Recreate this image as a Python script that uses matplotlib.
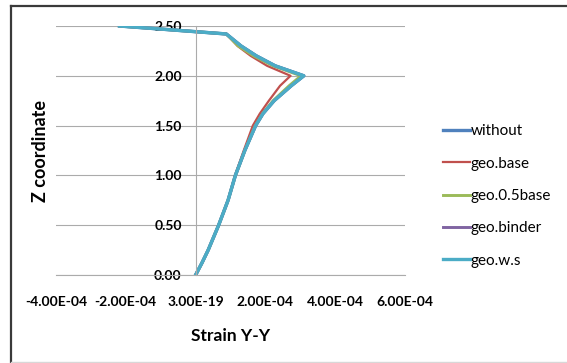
import numpy as np
import matplotlib
matplotlib.use("Agg")
import matplotlib.pyplot as plt
from matplotlib.lines import Line2D

# z levels (m) and strain Y-Y values, strain in units of 1e-4
z_coord = [0.0, 0.12, 0.25, 0.5, 0.75, 1.0, 1.25, 1.5, 1.62, 1.75, 1.9, 2.0, 2.1, 2.2, 2.3, 2.42, 2.5]
without = [0.0, 0.18, 0.36, 0.66, 0.93, 1.14, 1.41, 1.72, 1.93, 2.25, 2.74, 3.10, 2.28, 1.74, 1.30, 0.88, -2.18]
geo_base = [0.0, 0.18, 0.36, 0.66, 0.93, 1.13, 1.38, 1.64, 1.84, 2.10, 2.42, 2.72, 2.05, 1.58, 1.20, 0.88, -2.18]
geo_05base = [0.0, 0.18, 0.36, 0.66, 0.93, 1.14, 1.41, 1.71, 1.92, 2.22, 2.68, 3.02, 2.22, 1.66, 1.22, 0.88, -2.18]
geo_binder = [0.0, 0.18, 0.36, 0.66, 0.93, 1.14, 1.41, 1.72, 1.93, 2.25, 2.74, 3.10, 2.28, 1.74, 1.30, 0.88, -2.18]
geo_ws = [0.0, 0.18, 0.36, 0.66, 0.93, 1.14, 1.41, 1.72, 1.93, 2.25, 2.74, 3.10, 2.28, 1.74, 1.30, 0.88, -2.18]

series_names = ["without", "geo.base", "geo.0.5base", "geo.binder", "geo.w.s"]
x_ticks = [-4e-4, -2e-4, 0.0, 2e-4, 4e-4, 6e-4]
x_ticklabels = ["-4.00E-04", "-2.00E-04", "3.00E-19", "2.00E-04", "4.00E-04", "6.00E-04"]
y_ticks = [0.0, 0.5, 1.0, 1.5, 2.0, 2.5]
y_ticklabels = ["0.00", "0.50", "1.00", "1.50", "2.00", "2.50"]

colors = ["#4F81BD", "#C0504D", "#9BBB59", "#8064A2", "#4BACC6"]
widths = [2.4, 1.6, 2.1, 2.1, 2.4]

plt.rcParams["font.family"] = ["Lato", "DejaVu Sans"]

W, H = 567, 363
fig = plt.figure(figsize=(W / 100, H / 100), dpi=100)
ax = fig.add_axes([56 / W, (H - 275) / H, 349 / W, 249 / H])

unit = 1e-4
all_series = [without, geo_base, geo_05base, geo_binder, geo_ws]
for name, vals, c, lw in zip(series_names, all_series, colors, widths):
    ax.plot(np.array(vals) * unit, z_coord, color=c, lw=lw, label=name,
            solid_joinstyle="round")

ax.set_xlim(-4e-4, 6e-4)
ax.set_ylim(0, 2.5)
ax.set_xticks(x_ticks, x_ticklabels)
ax.set_yticks(y_ticks, y_ticklabels)

grid_c = "#ABABAB"
ax.grid(axis="y", color=grid_c, lw=0.8)
ax.set_axisbelow(True)
for s in ["top", "right"]:
    ax.spines[s].set_visible(False)
ax.spines["bottom"].set_color(grid_c)
ax.spines["bottom"].set_linewidth(0.8)
ax.spines["left"].set_position(("data", 0))
ax.spines["left"].set_color(grid_c)
ax.spines["left"].set_linewidth(0.8)

ax.tick_params(axis="both", length=0, labelsize=10)
ax.tick_params(axis="x", pad=15)
ax.tick_params(axis="y", pad=10)
for lab in ax.get_xticklabels() + ax.get_yticklabels():
    lab.set_fontweight("bold")

ax.set_xlabel("Strain Y-Y", fontsize=12.5, fontweight="bold", va="center")
ax.xaxis.set_label_coords(0.5, (275 - 336) / 249)
ax.set_ylabel("Z coordinate", fontsize=13, fontweight="bold", va="center")
ax.yaxis.set_label_coords((40.5 - 56) / 349, 0.5)

fig.legend(loc="center left", bbox_to_anchor=(443 / W, 1 - 196 / H),
           frameon=False, fontsize=11, handlelength=1.75, handletextpad=0.05,
           labelspacing=1.2, borderpad=0, borderaxespad=0)

# chart frame
fig.add_artist(Line2D([11 / W, 11 / W], [0, 1 - 5.5 / H], color="#3A3A3A", lw=1.6))
fig.add_artist(Line2D([11 / W, 1], [1 - 5.5 / H, 1 - 5.5 / H], color="#3A3A3A", lw=1.6))
fig.add_artist(Line2D([11 / W, 1], [1.5 / H, 1.5 / H], color="#D8D8D8", lw=1.0))

fig.savefig("out.png", dpi=100)
